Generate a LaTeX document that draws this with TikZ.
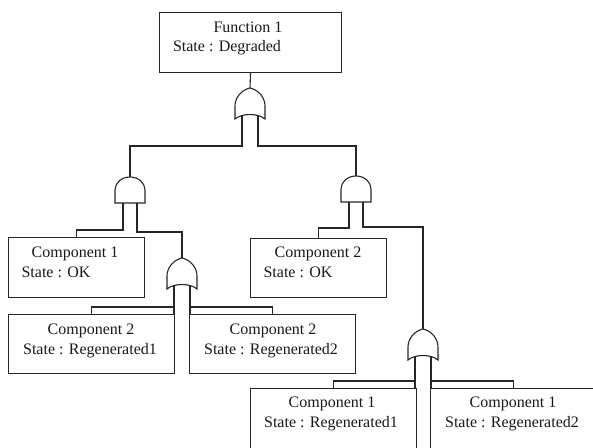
\documentclass[tikz,border=0pt]{standalone}
\usepackage{fontspec}
\setmainfont{Liberation Serif}
\begin{document}
\begin{tikzpicture}[x=1pt,y=-1pt, line width=1.1pt,
  box/.style={draw=black!85, rectangle, inner sep=0pt, anchor=north west},
  lbl/.style={font=\fontsize{16}{18}\selectfont, inner sep=0pt, anchor=mid, text=black!90},
  wire/.style={draw=black!85},
  orgate/.pic={
    \draw[black!85] (0,0) .. controls (9,2) and (15,10) .. (15,18) -- (15,31)
       .. controls (8,25) and (-8,25) .. (-15,31) -- (-15,18)
       .. controls (-15,10) and (-9,2) .. (0,0) -- cycle;
    \coordinate (-tip) at (0,0);
    \coordinate (-l) at (-8,27.6);
    \coordinate (-r) at (8,27.6);
  },
  andgate/.pic={
    \draw[black!85] (-15,26) -- (-15,13) arc[start angle=180, end angle=360, x radius=15, y radius=13] -- (15,26) -- cycle;
    \coordinate (-top) at (0,0);
    \coordinate (-l) at (-7,26);
    \coordinate (-r) at (7,26);
  }]
\useasboundingbox (0,0) rectangle (593,447);
\clip (0,0) rectangle (593,447);

% boxes
\node[box, minimum width=182pt, minimum height=60pt] (F) at (159,12) {};
\node[box, minimum width=136pt, minimum height=60pt] (C1ok) at (8,237) {};
\node[box, minimum width=136pt, minimum height=59pt] (C2ok) at (250,238) {};
\node[box, minimum width=166pt, minimum height=59pt] (C2ra) at (8,314) {};
\node[box, minimum width=166pt, minimum height=59pt] (C2rb) at (189,314) {};
\node[box, minimum width=166pt, minimum height=80pt] (C1ra) at (250,388) {};
\node[box, minimum width=166pt, minimum height=80pt] (C1rb) at (430,388) {};

% labels
\node[lbl] (tF1) at (248,30) {Function 1};
\node[lbl] (tF2) at (227,49) {State : Degraded};
\node[lbl] (tA1) at (75,255) {Component 1};
\node[lbl] (tA2) at (56,275) {State : OK};
\node[lbl] (tB1) at (318,255) {Component 2};
\node[lbl] (tB2) at (298,275) {State : OK};
\node[lbl] (tC1) at (91,332) {Component 2};
\node[lbl] (tC2) at (90,352) {State : Regenerated1};
\node[lbl] (tD1) at (273,332) {Component 2};
\node[lbl] (tD2) at (271,352) {State : Regenerated2};
\node[lbl] (tE1) at (332,405) {Component 1};
\node[lbl] (tE2) at (331,425) {State : Regenerated1};
\node[lbl] (tG1) at (513,405) {Component 1};
\node[lbl] (tG2) at (512,425) {State : Regenerated2};

% gates
\pic (orA) at (250,88) {orgate};
\pic (andA) at (130,177) {andgate};
\pic (andB) at (356,176) {andgate};
\pic (orB) at (182,258) {orgate};
\pic (orC) at (423,329) {orgate};

% connectors
\draw[wire] (F.south) -- (orA-tip);
\draw[wire] (orA-l) -- (orA-l |- 0,146) -| (andA-top);
\draw[wire] (orA-r) -- (orA-r |- 0,146) -| (andB-top);
\draw[wire] (andA-l) -- (andA-l |- 0,230) -| (C1ok.north);
\draw[wire] (andA-r) -- (andA-r |- 0,232) -| (orB-tip);
\draw[wire] (andB-l) -- (andB-l |- 0,228) -| (C2ok.north);
\draw[wire] (andB-r) -- (andB-r |- 0,227) -| (orC-tip);
\draw[wire] (orB-l) -- (orB-l |- C2ra.north);
\draw[wire] (orB-l |- 0,307) -| (C2ra.north);
\draw[wire] (orB-r) -- (orB-r |- C2rb.north);
\draw[wire] (orB-r |- 0,307) -| (C2rb.north);
\draw[wire] (orC-l) -- (orC-l |- C1ra.north);
\draw[wire] (orC-l |- 0,381) -| (C1ra.north);
\draw[wire] (orC-r) -- (orC-r |- C1rb.north);
\draw[wire] (orC-r |- 0,381) -| (C1rb.north);
\end{tikzpicture}
\end{document}
